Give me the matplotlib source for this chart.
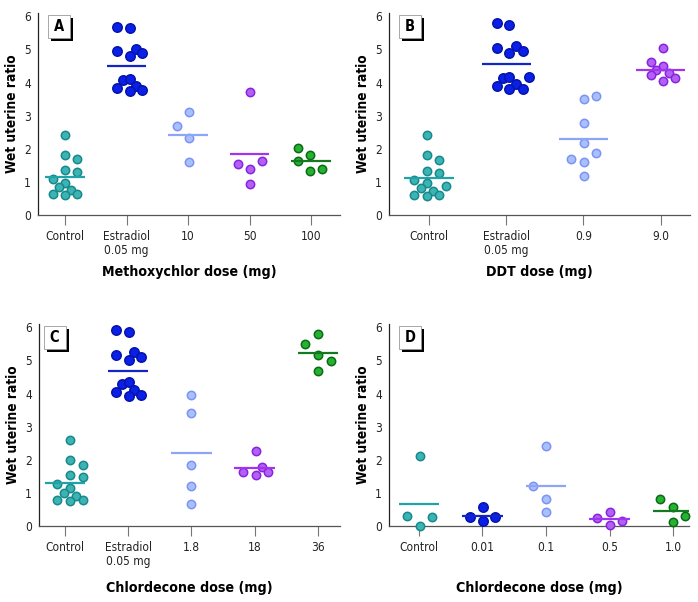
import numpy as np
import matplotlib
matplotlib.use("Agg")
import matplotlib.pyplot as plt
from matplotlib.patches import Rectangle

plt.rcParams['font.family'] = ['DejaVu Sans']
plt.rcParams['font.stretch'] = 'condensed'

# group colours: (fill, edge, mean line)
teal = ('#3cb4b4', '#17898c', '#1fa3a6')
dblue = ('#0a1fe8', '#0614a8', '#1226c8')
lblue = ('#a9c0ff', '#7d93f2', '#8ea4f7')
purple = ('#b262f2', '#8a22e0', '#a233ef')
green = ('#25b233', '#0b6a14', '#137a22')

# ---- panel A : methoxychlor
a_labels = ['Control', 'Estradiol\n0.05 mg', '10', '50', '100']
a_vals = [
    [2.42, 1.82, 1.68, 1.36, 1.30, 1.09, 0.97, 0.86, 0.76, 0.64, 0.61, 0.64],
    [5.69, 5.64, 4.95, 5.01, 4.79, 4.88, 4.08, 4.12, 3.84, 3.91, 3.74, 3.76],
    [3.11, 2.68, 2.34, 1.59],
    [3.72, 1.53, 1.64, 1.39, 0.95],
    [2.02, 1.81, 1.63, 1.34, 1.40],
]
a_jit = [
    [0, 0, 0.2, 0, 0.2, -0.2, 0, -0.1, 0.1, -0.2, 0, 0.2],
    [-0.15, 0.05, -0.15, 0.15, 0.05, 0.25, -0.05, 0.05, -0.15, 0.15, 0.05, 0.25],
    [0.02, -0.18, 0.02, 0.02],
    [0, -0.19, 0.2, 0, 0],
    [-0.21, -0.02, -0.21, -0.02, 0.18],
]
a_means = [1.14, 4.49, 2.42, 1.84, 1.63]

# ---- panel B : DDT
b_labels = ['Control', 'Estradiol\n0.05 mg', '0.9', '9.0']
b_vals = [
    [2.43, 1.80, 1.66, 1.34, 1.28, 1.06, 0.96, 0.88, 0.81, 0.73, 0.61, 0.56, 0.61],
    [5.80, 5.74, 5.05, 5.11, 4.88, 4.96, 4.13, 4.18, 4.16, 3.89, 3.96, 3.79, 3.81],
    [3.51, 3.58, 2.77, 2.18, 1.88, 1.69, 1.60, 1.18],
    [5.03, 4.61, 4.51, 4.38, 4.30, 4.22, 4.14, 4.04],
]
b_jit = [
    [-0.03, -0.03, 0.13, -0.03, 0.13, -0.19, -0.03, 0.22, -0.11, 0.05, -0.19, -0.03, 0.13],
    [-0.12, 0.04, -0.12, 0.13, 0.04, 0.21, -0.04, 0.04, 0.29, -0.12, 0.13, 0.04, 0.21],
    [0.01, 0.16, 0.01, 0.01, 0.16, -0.16, 0.01, 0.01],
    [0.03, -0.13, 0.03, -0.06, 0.11, -0.13, 0.19, 0.03],
]
b_means = [1.12, 4.56, 2.30, 4.38]

# ---- panel C : chlordecone
c_labels = ['Control', 'Estradiol\n0.05 mg', '1.8', '18', '36']
c_vals = [
    [2.60, 1.99, 1.84, 1.53, 1.47, 1.26, 1.14, 1.00, 0.92, 0.79, 0.75, 0.79],
    [5.92, 5.86, 5.17, 5.24, 5.00, 5.10, 4.30, 4.34, 4.04, 4.11, 3.92, 3.95],
    [3.95, 3.42, 1.83, 1.21, 0.67],
    [2.25, 1.78, 1.64, 1.54, 1.64],
    [5.80, 5.50, 5.15, 4.98, 4.69],
]
c_jit = [
    [0.08, 0.08, 0.28, 0.08, 0.28, -0.12, 0.08, -0.02, 0.18, -0.12, 0.08, 0.28],
    [-0.19, 0.01, -0.19, 0.10, 0.01, 0.20, -0.10, 0.01, -0.19, 0.10, 0.01, 0.20],
    [0, 0, 0, 0, 0],
    [0.02, 0.11, -0.18, 0.02, 0.21],
    [0, -0.2, 0, 0.2, 0],
]
c_means = [1.31, 4.69, 2.20, 1.76, 5.21]

# ---- panel D : chlordecone (low doses)
d_labels = ['Control', '0.01', '0.1', '0.5', '1.0']
d_vals = [
    [2.11, 0.29, 0.27, 0.01],
    [0.58, 0.27, 0.27, 0.15],
    [2.41, 1.20, 0.81, 0.41],
    [0.43, 0.25, 0.16, 0.02],
    [0.83, 0.57, 0.31, 0.13],
]
d_jit = [
    [0.01, -0.18, 0.21, 0.01],
    [0.01, -0.19, 0.2, 0.01],
    [0, -0.21, 0, 0],
    [0.01, -0.2, 0.2, 0.01],
    [-0.2, 0, 0.19, 0],
]
d_means = [0.66, 0.30, 1.20, 0.20, 0.46]

panels = [
    ('A', a_labels, a_vals, a_jit, a_means, [teal, dblue, lblue, purple, green],
     'Methoxychlor dose (mg)', [38, 13, 302, 202], (0.56, 5.47), 0.033),
    ('B', b_labels, b_vals, b_jit, b_means, [teal, dblue, lblue, purple],
     'DDT dose (mg)', [389, 13, 301, 202], (0.48, 4.38), 0.033),
    ('C', c_labels, c_vals, c_jit, c_means, [teal, dblue, lblue, purple, green],
     'Chlordecone dose (mg)', [39, 324, 301, 202], (0.59, 5.35), 0.015),
    ('D', d_labels, d_vals, d_jit, d_means, [teal, dblue, lblue, purple, green],
     'Chlordecone dose (mg)', [389, 324, 300, 202], (0.53, 5.25), 0.033),
]

W, H = 698, 602
fig = plt.figure(figsize=(W / 100, H / 100), dpi=100)

for tag, labels, vals, jit, means, cols, xlab, box, xl, bx in panels:
    l, t, w, h = box
    ax = fig.add_axes([l / W, 1 - (t + h) / H, w / W, h / H])
    pos = np.arange(1, len(labels) + 1)
    for i, (v, j, m, c) in enumerate(zip(vals, jit, means, cols)):
        sz = 46 if c is dblue else 36
        ax.scatter(pos[i] + np.array(j), v, s=sz, color=c[0], edgecolors=c[1],
                   linewidths=1.1, zorder=3, clip_on=False)
        ax.plot([pos[i] - 0.32, pos[i] + 0.32], [m, m], color=c[2], lw=1.6,
                zorder=4, solid_capstyle='butt')
    ax.set_xlim(*xl)
    ax.set_ylim(0, 6.1)
    ax.set_yticks(range(7))
    ax.set_xticks(pos)
    ax.set_xticklabels(labels, fontsize=8.6, color='#222', linespacing=1.05)
    ax.tick_params(axis='y', length=0, pad=5, labelsize=8.6, labelcolor='#222')
    ax.tick_params(axis='x', length=7, width=0.8, color='#777', pad=4, direction='out')
    for s in ['top', 'right']:
        ax.spines[s].set_visible(False)
    ax.spines['left'].set_color('#222')
    ax.spines['bottom'].set_color('#555')
    ax.spines['left'].set_linewidth(0.9)
    ax.spines['bottom'].set_linewidth(0.9)
    ax.set_ylabel('Wet uterine ratio', fontsize=9.8, fontweight='bold')
    ax.yaxis.label.set_va('center')
    ax.yaxis.set_label_coords(-26 / w, 0.5)
    ax.set_xlabel(xlab, fontsize=10.2, fontweight='bold')
    ax.xaxis.label.set_va('center')
    ax.xaxis.set_label_coords(0.5, -(57 if t < 100 else 62) / h)
    # panel tag with drop shadow
    bw, bh = 22 / w, 23 / h
    ax.add_patch(Rectangle((bx + 3 / w, 0.99 - bh - 3 / h), bw, bh, transform=ax.transAxes,
                           facecolor='black', edgecolor='none', clip_on=False, zorder=5))
    ax.add_patch(Rectangle((bx, 0.99 - bh), bw, bh, transform=ax.transAxes,
                           facecolor='white', edgecolor='#999', lw=0.6, clip_on=False, zorder=6))
    ax.text(bx + bw / 2, 0.99 - bh / 2, tag, transform=ax.transAxes, ha='center', va='center',
            fontsize=10.5, fontweight='bold', zorder=7)

fig.savefig('out.png', dpi=100)
